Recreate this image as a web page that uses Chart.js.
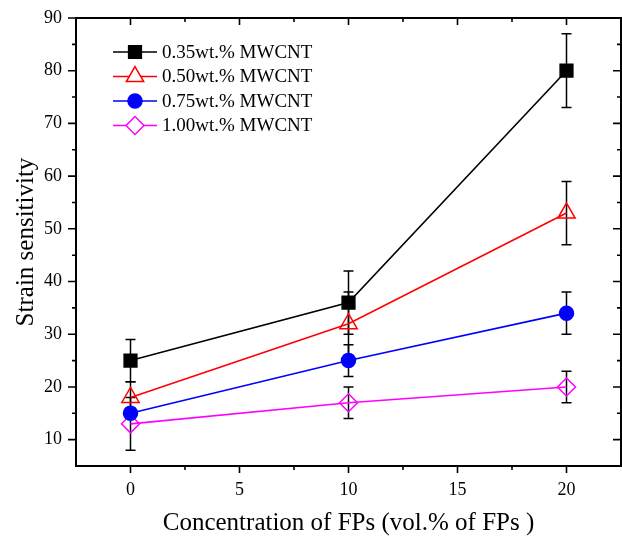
<!DOCTYPE html>
<html>
<head>
<meta charset="utf-8">
<style>
  html, body { margin: 0; padding: 0; background: #fff; }
  #wrap { width: 622px; height: 539px; }
</style>
</head>
<body>
<div id="wrap"><canvas id="sensChart" width="622" height="539"></canvas></div>
<script src="https://cdn.jsdelivr.net/npm/chart.js"></script>
<script>
// data
const xValues = [0, 10, 20];
const labels = ['0.35wt.% MWCNT', '0.50wt.% MWCNT', '0.75wt.% MWCNT', '1.00wt.% MWCNT'];
const s035 = [25, 36, 80];
const s050 = [18, 32, 53];
const s075 = [15, 25, 34];
const s100 = [13, 17, 20];
// error bar half heights
const e035 = [4, 6, 7];
const e050 = [3, 6, 6];
const e075 = [1, 3, 4];
const e100 = [5, 3, 3];
// axis ticks
const xTicks = [0, 5, 10, 15, 20];
const xMinor = [2.5, 7.5, 12.5, 17.5];
const yTicks = [10, 20, 30, 40, 50, 60, 70, 80, 90];
const yMinor = [15, 25, 35, 45, 55, 65, 75, 85];

const serif = "'Liberation Serif', 'DejaVu Serif', serif";
const series = [s035, s050, s075, s100];
const errors = [e035, e050, e075, e100];
const colors = ['#000000', '#ff0000', '#0000ff', '#ff00ff'];
const styles = ['rect', 'triangle', 'circle', 'rectRot'];
const radii = [9, 10, 7, 9];
const fills = ['#000000', 'rgba(0,0,0,0)', '#0000ff', 'rgba(0,0,0,0)'];

const datasets = series.map((s, i) => ({
  label: labels[i],
  data: s.map((v, j) => ({ x: xValues[j], y: v })),
  borderColor: colors[i],
  backgroundColor: fills[i],
  borderWidth: 1.6,
  pointStyle: styles[i],
  pointRadius: radii[i],
  pointBorderColor: colors[i],
  pointBackgroundColor: fills[i],
  pointBorderWidth: 1.5,
  tension: 0
}));

// the x scale keeps a few px of right margin from its first layout pass; stretch it to the edge
const fillWidth = {
  id: 'fillWidth',
  afterLayout(chart) {
    const a = chart.chartArea, xs = chart.scales.x;
    const r = chart.width - 1;
    a.right = r; a.width = r - a.left;
    xs.right = r; xs.width = r - xs.left;
    xs.configure();
    xs._labelItems = null;
  }
};

// black error bars, drawn under the markers
const errorBars = {
  id: 'errorBars',
  beforeDatasetsDraw(chart) {
    const ctx = chart.ctx, xs = chart.scales.x, ys = chart.scales.y;
    ctx.save();
    ctx.strokeStyle = '#000';
    ctx.lineWidth = 1.5;
    series.forEach((s, i) => {
      s.forEach((v, j) => {
        const px = xs.getPixelForValue(xValues[j]);
        const top = ys.getPixelForValue(v + errors[i][j]);
        const bot = ys.getPixelForValue(v - errors[i][j]);
        ctx.beginPath();
        ctx.moveTo(px, top); ctx.lineTo(px, bot);
        ctx.moveTo(px - 5, top); ctx.lineTo(px + 5, top);
        ctx.moveTo(px - 5, bot); ctx.lineTo(px + 5, bot);
        ctx.stroke();
      });
    });
    ctx.restore();
  }
};

// box frame with outward ticks bottom/left and inward ticks top/right
const frame = {
  id: 'frame',
  afterDraw(chart) {
    const ctx = chart.ctx, a = chart.chartArea, xs = chart.scales.x, ys = chart.scales.y;
    ctx.save();
    ctx.strokeStyle = '#000';
    ctx.lineWidth = 2;
    ctx.strokeRect(a.left, a.top, a.right - a.left, a.bottom - a.top);
    ctx.lineWidth = 1.6;
    ctx.beginPath();
    const xt = (v, len) => {
      const p = xs.getPixelForValue(v);
      ctx.moveTo(p, a.bottom); ctx.lineTo(p, a.bottom + len);
      ctx.moveTo(p, a.top); ctx.lineTo(p, a.top + len);
    };
    const yt = (v, len) => {
      const p = ys.getPixelForValue(v);
      ctx.moveTo(a.left, p); ctx.lineTo(a.left - len, p);
      ctx.moveTo(a.right, p); ctx.lineTo(a.right - len, p);
    };
    xTicks.forEach(v => xt(v, 7));
    xMinor.forEach(v => xt(v, 4));
    yTicks.forEach(v => yt(v, 8));
    yMinor.forEach(v => yt(v, 4));
    ctx.stroke();
    ctx.restore();
  }
};

// legend inside the plot, top left
const boxLegend = {
  id: 'boxLegend',
  afterDraw(chart) {
    const ctx = chart.ctx, a = chart.chartArea;
    const x0 = a.left + 37, y0 = a.top + 34, rowH = 24.5;
    ctx.save();
    ctx.font = '19px ' + serif;
    ctx.textBaseline = 'middle';
    chart.data.datasets.forEach((ds, i) => {
      const y = y0 + i * rowH;
      ctx.strokeStyle = ds.borderColor;
      ctx.lineWidth = 1.6;
      ctx.beginPath();
      ctx.moveTo(x0, y); ctx.lineTo(x0 + 44, y);
      ctx.stroke();
      ctx.fillStyle = ds.pointBackgroundColor === 'rgba(0,0,0,0)' ? '#fff' : ds.pointBackgroundColor;
      ctx.lineWidth = 1.5;
      Chart.helpers.drawPoint(ctx, { pointStyle: ds.pointStyle, radius: ds.pointRadius, rotation: 0, borderWidth: 1.5 }, x0 + 22, y);
      ctx.fillStyle = '#000';
      ctx.fillText(ds.label, x0 + 49, y + 1);
    });
    ctx.restore();
  }
};

// drop the label overhang padding so the plot box fills the canvas like the original
const noPad = s => { s.paddingLeft = 0; s.paddingRight = 0; s.paddingTop = 0; s.paddingBottom = 0; };
// invisible tick marks stand in for label spacing (real ticks are drawn by the frame plugin)
const hiddenGrid = len => ({ display: true, drawOnChartArea: false, drawTicks: true, tickLength: len, color: 'rgba(0,0,0,0)' });

new Chart(document.getElementById('sensChart'), {
  type: 'line',
  data: { datasets: datasets },
  plugins: [fillWidth, errorBars, frame, boxLegend],
  options: {
    responsive: false,
    animation: false,
    devicePixelRatio: 1,
    layout: { padding: { top: 18, right: 1, left: 0, bottom: 0 } },
    plugins: { legend: { display: false }, tooltip: { enabled: false } },
    scales: {
      x: {
        type: 'linear',
        min: -2.5,
        max: 22.5,
        afterBuildTicks: s => { s.ticks = xTicks.map(v => ({ value: v })); },
        afterFit: s => { s.height = 73; noPad(s); },
        grid: hiddenGrid(13),
        border: { display: false },
        ticks: { autoSkip: false, maxRotation: 0, padding: 0, color: '#000', font: { family: serif, size: 18 } },
        title: { display: true, text: 'Concentration of FPs (vol.% of FPs )', color: '#000', font: { family: serif, size: 25 }, padding: { top: 0, bottom: 1 } }
      },
      y: {
        type: 'linear',
        min: 5,
        max: 90,
        afterBuildTicks: s => { s.ticks = yTicks.map(v => ({ value: v })); },
        afterFit: s => { s.width = 76; noPad(s); },
        grid: hiddenGrid(14),
        border: { display: false },
        ticks: { padding: 0, color: '#000', font: { family: serif, size: 18 } },
        title: { display: true, text: 'Strain sensitivity', color: '#000', font: { family: serif, size: 25 }, padding: { top: 11, bottom: 0 } }
      }
    }
  }
});
</script>
</body>
</html>
